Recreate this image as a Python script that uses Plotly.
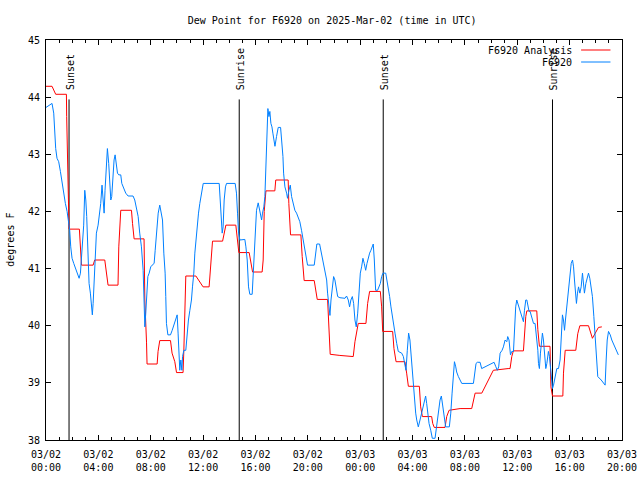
import pandas as pd
import plotly.graph_objects as go

# ---------------- data ----------------
start_time = "2025-03-02 00:00"
span_hours = 44

analysis_hours = [
    0.0, 0.46, 0.74, 1.56, 1.58, 1.63, 1.68, 1.76, 2.55, 2.63,
    2.71, 3.60, 3.72, 4.49, 4.67, 4.74, 5.50, 5.56, 5.71, 6.53,
    6.61, 6.73, 7.49, 7.55, 7.68, 7.72, 8.49, 8.56, 8.69, 9.51,
    9.63, 9.84, 9.97, 10.47, 10.53, 10.63, 10.68, 11.45, 12.00, 12.46,
    12.57, 12.72, 13.49, 13.59, 13.74, 14.50, 14.60, 14.73, 15.52, 15.65,
    15.78, 16.51, 16.59, 16.67, 16.80, 17.48, 17.55, 18.50, 18.55, 18.68,
    19.47, 19.57, 19.72, 20.49, 20.60, 20.72, 21.51, 21.61, 21.71, 22.45,
    23.47, 23.60, 23.75, 23.85, 24.44, 24.57, 24.72, 25.54, 25.64, 25.72,
    26.48, 26.58, 26.74, 27.42, 27.55, 27.68, 28.52, 28.62, 28.75, 29.46,
    29.54, 29.66, 30.48, 30.61, 30.79, 31.63, 32.52, 32.65, 32.78, 33.29,
    34.17, 35.30, 35.45, 35.58, 35.70, 36.47, 36.54, 36.65, 36.73, 37.49,
    37.57, 37.69, 38.50, 38.57, 38.69, 39.48, 39.53, 39.66, 40.47, 40.62,
    40.78, 41.44, 41.74, 42.20, 42.46,
]
analysis_values = [
    44.19, 44.19, 44.05, 44.05, 43.66, 42.87, 42.08, 41.69, 41.69, 41.38,
    41.06, 41.06, 41.15, 41.15, 40.83, 40.71, 40.71, 41.38, 42.02, 42.02,
    41.79, 41.52, 41.52, 40.45, 39.70, 39.33, 39.33, 39.55, 39.74, 39.74,
    39.52, 39.37, 39.18, 39.18, 39.57, 40.22, 40.87, 40.87, 40.68, 40.68,
    40.97, 41.48, 41.48, 41.59, 41.76, 41.76, 41.50, 41.28, 41.28, 41.12,
    40.94, 40.94, 41.15, 42.00, 42.36, 42.36, 42.55, 42.55, 42.14, 41.59,
    41.59, 41.21, 40.79, 40.79, 40.63, 40.46, 40.46, 40.04, 39.50, 39.48,
    39.46, 39.72, 39.92, 40.04, 40.04, 40.39, 40.60, 40.60, 40.33, 39.90,
    39.90, 39.60, 39.37, 39.37, 39.17, 38.94, 38.94, 38.58, 38.41, 38.41,
    38.29, 38.22, 38.22, 38.41, 38.52, 38.55, 38.55, 38.70, 38.82, 38.82,
    39.22, 39.25, 39.25, 39.46, 39.56, 39.56, 39.87, 40.16, 40.26, 40.26,
    39.93, 39.64, 39.64, 38.93, 38.77, 38.77, 39.17, 39.57, 39.57, 39.86,
    40.00, 40.00, 39.78, 39.97, 39.98,
]

obs_hours = [
    0.00, 0.28, 0.46, 0.59, 0.67, 0.74, 0.84, 0.97, 1.10, 1.23,
    1.35, 1.48, 1.61, 1.74, 1.81, 1.89, 1.99, 2.12, 2.25, 2.37,
    2.53, 2.63, 2.70, 2.78, 2.88, 2.96, 3.04, 3.11, 3.21, 3.29,
    3.39, 3.47, 3.54, 3.60, 3.67, 3.75, 3.85, 3.98, 4.11, 4.18,
    4.28, 4.39, 4.44, 4.51, 4.61, 4.69, 4.79, 4.87, 4.95, 5.02,
    5.12, 5.20, 5.28, 5.38, 5.46, 5.56, 5.71, 5.79, 5.94, 6.09,
    6.27, 6.65, 6.78, 6.91, 7.04, 7.16, 7.29, 7.42, 7.49, 7.55,
    7.62, 7.70, 7.78, 7.88, 8.00, 8.11, 8.26, 8.34, 8.44, 8.57,
    8.69, 8.82, 8.90, 9.00, 9.10, 9.15, 9.20, 9.31, 9.51, 9.64,
    9.76, 9.92, 10.02, 10.09, 10.17, 10.22, 10.30, 10.38, 10.43, 10.53,
    10.68, 10.78, 10.88, 10.99, 11.11, 11.19, 11.29, 11.37, 11.45, 11.55,
    11.65, 11.75, 11.88, 12.01, 13.23, 13.28, 13.36, 13.46, 13.53, 13.61,
    13.71, 13.79, 14.45, 14.55, 14.63, 14.71, 14.81, 15.19, 15.27, 15.37,
    15.47, 15.57, 15.75, 15.83, 15.91, 16.01, 16.08, 16.21, 16.34, 16.47,
    16.54, 16.64, 16.72, 16.80, 16.87, 16.95, 17.03, 17.10, 17.18, 17.26,
    17.33, 17.41, 17.49, 17.61, 17.74, 17.92, 17.99, 18.10, 18.15, 18.25,
    18.38, 18.45, 18.56, 18.66, 18.76, 18.89, 19.01, 19.14, 19.27, 19.39,
    19.52, 19.65, 19.78, 19.88, 19.98, 20.49, 20.59, 20.69, 20.90, 21.00,
    21.10, 21.21, 21.31, 21.44, 21.51, 21.61, 21.69, 21.77, 21.87, 21.97,
    22.07, 22.18, 22.28, 22.45, 22.71, 22.84, 22.96, 23.09, 23.19, 23.29,
    23.40, 23.50, 23.60, 23.70, 23.81, 23.91, 24.01, 24.11, 24.21, 24.31,
    24.42, 24.52, 24.62, 24.72, 24.82, 24.93, 25.00, 25.08, 25.18, 25.33,
    25.44, 25.54, 25.64, 25.74, 25.95, 26.05, 26.15, 26.25, 26.35, 26.45,
    26.66, 26.79, 26.91, 27.17, 27.30, 27.42, 27.50, 27.60, 27.70, 27.80,
    27.88, 27.96, 28.06, 28.14, 28.24, 28.32, 28.44, 28.57, 28.70, 28.83,
    28.93, 29.00, 29.08, 29.16, 29.26, 29.39, 29.51, 29.72, 29.79, 29.90,
    30.00, 30.10, 30.20, 30.28, 30.35, 30.46, 30.53, 30.81, 30.92, 31.02,
    31.12, 31.20, 31.30, 31.37, 31.50, 31.63, 31.76, 32.65, 32.75, 32.85,
    32.95, 33.16, 33.28, 33.54, 33.80, 34.05, 34.23, 34.35, 34.48, 34.58,
    34.69, 34.84, 34.94, 35.07, 35.20, 35.27, 35.37, 35.48, 35.58, 35.71,
    35.78, 35.88, 35.96, 36.04, 36.14, 36.24, 36.34, 36.47, 36.55, 36.65,
    36.73, 36.80, 36.90, 36.98, 37.11, 37.24, 37.36, 37.49, 37.57, 37.62,
    37.69, 37.77, 37.85, 37.92, 38.00, 38.08, 38.18, 38.26, 38.33, 38.38,
    38.46, 38.54, 38.61, 38.69, 38.77, 38.84, 38.94, 39.02, 39.15, 39.27,
    39.35, 39.45, 39.53, 39.61, 39.68, 39.78, 39.86, 39.96, 40.04, 40.12,
    40.22, 40.30, 40.37, 40.45, 40.52, 40.60, 40.68, 40.78, 40.88, 40.98,
    41.06, 41.13, 41.24, 41.34, 41.44, 41.54, 41.64, 41.74, 41.85, 41.95,
    42.05, 42.15, 42.41, 42.59, 42.71, 42.79, 42.87, 42.97, 43.10, 43.22,
    43.35, 43.48, 43.60, 43.72,
]
obs_values = [
    43.82, 43.86, 43.89, 43.72, 43.37, 43.10, 42.93, 42.87, 42.70, 42.49,
    42.32, 42.14, 42.00, 41.82, 41.67, 41.38, 41.18, 41.09, 41.00, 40.92,
    40.83, 40.92, 41.15, 41.50, 41.76, 42.37, 42.20, 41.91, 41.27, 40.74,
    40.57, 40.39, 40.19, 40.39, 40.80, 41.27, 41.62, 41.76, 41.97, 42.14,
    42.46, 42.20, 41.97, 42.37, 42.72, 43.10, 42.84, 42.55, 42.20, 42.26,
    42.72, 42.90, 42.99, 42.84, 42.67, 42.64, 42.64, 42.49, 42.40, 42.32,
    42.27, 42.27, 42.20, 42.08, 41.91, 41.62, 41.38, 40.97, 40.39, 39.98,
    40.22, 40.68, 40.86, 40.92, 41.03, 41.06, 41.09, 41.32, 41.67, 41.97,
    42.11, 41.95, 41.85, 41.27, 40.92, 40.51, 40.04, 39.84, 39.84, 39.92,
    40.01, 40.10, 40.19, 39.87, 39.46, 39.22, 39.40, 39.22, 39.46, 39.57,
    39.57, 39.87, 40.10, 40.27, 40.45, 40.68, 40.92, 41.27, 41.50, 41.73,
    41.97, 42.14, 42.32, 42.49, 42.49, 42.32, 41.97, 41.62, 41.73, 42.20,
    42.43, 42.49, 42.49, 42.32, 41.97, 41.62, 41.50, 41.51, 41.38, 41.15,
    40.68, 40.55, 40.55, 40.92, 41.50, 41.85, 42.02, 42.15, 42.02, 41.85,
    41.97, 42.08, 42.26, 42.96, 43.37, 43.80, 43.66, 43.75, 43.54, 43.48,
    43.37, 43.25, 43.14, 43.31, 43.47, 43.47, 43.31, 42.96, 42.67, 42.43,
    42.32, 42.23, 42.37, 42.46, 42.26, 42.14, 42.02, 41.97, 41.88, 41.82,
    41.67, 41.50, 41.32, 41.15, 41.06, 41.06, 41.27, 41.43, 41.43, 41.32,
    41.21, 41.09, 40.97, 40.80, 40.57, 40.33, 40.18, 40.45, 40.68, 40.86,
    40.80, 40.62, 40.51, 40.49, 40.48, 40.48, 40.52, 40.45, 40.33, 40.45,
    40.51, 40.39, 40.10, 39.98, 40.22, 40.57, 40.92, 41.03, 41.18, 41.09,
    40.97, 41.09, 41.21, 41.27, 41.32, 41.38, 41.43, 41.15, 40.62, 40.62,
    40.68, 40.74, 40.86, 40.92, 40.92, 40.80, 40.68, 40.51, 40.33, 40.16,
    39.87, 39.69, 39.55, 39.52, 39.46, 39.31, 39.22, 39.57, 39.87, 39.75,
    39.52, 39.28, 38.99, 38.70, 38.47, 38.35, 38.23, 38.35, 38.47, 38.58,
    38.70, 38.77, 38.64, 38.47, 38.29, 38.17, 38.03, 38.03, 38.17, 38.41,
    38.58, 38.70, 38.77, 38.64, 38.52, 38.41, 38.23, 38.23, 38.47, 38.82,
    39.11, 39.37, 39.28, 39.19, 39.11, 39.05, 38.99, 38.99, 39.17, 39.34,
    39.36, 39.36, 39.25, 39.28, 39.31, 39.33, 39.36, 39.29, 39.22, 39.28,
    39.52, 39.57, 39.63, 39.75, 39.72, 39.81, 39.75, 39.49, 39.55, 39.55,
    39.92, 40.33, 40.45, 40.39, 40.30, 40.22, 40.13, 40.07, 40.27, 40.45,
    40.45, 40.33, 40.25, 40.25, 40.16, 40.04, 40.04, 39.81, 39.57, 39.34,
    39.25, 39.52, 39.78, 39.87, 39.75, 39.46, 39.25, 39.34, 39.52, 39.55,
    39.46, 39.22, 39.11, 38.90, 38.96, 39.05, 39.22, 39.25, 39.25, 39.40,
    39.75, 40.19, 40.10, 39.92, 40.10, 40.33, 40.51, 40.80, 40.97, 41.09,
    41.15, 41.03, 40.80, 40.57, 40.39, 40.57, 40.68, 40.57, 40.68, 40.92,
    40.71, 40.57, 40.74, 40.83, 40.92, 40.83, 40.68, 40.51, 40.16, 39.75,
    39.40, 39.11, 39.05, 38.99, 38.96, 39.40, 39.75, 39.90, 39.84, 39.75,
    39.69, 39.63, 39.57, 39.49,
]

sun_labels = ["Sunset", "Sunrise", "Sunset", "Sunrise"]
sun_hours = [1.76, 14.76, 25.76, 38.69]
sun_line_top = 43.96
sun_label_base = 44.09

series_names = ["F6920 Analysis", "F6920"]
series_colors = ["#ff0000", "#0080ff"]

y_min, y_max = 38, 45
tick_every_hours = 4

# ---------------- figure ----------------
t0 = pd.Timestamp(start_time)


def to_time(hours):
    return [t0 + pd.Timedelta(hours=h) for h in hours]


FONT = "DejaVu Sans Mono"

fig = go.Figure()
fig.add_trace(go.Scatter(x=to_time(analysis_hours), y=analysis_values, mode="lines",
                         name=series_names[0], line=dict(color=series_colors[0], width=1),
                         showlegend=False, hoverinfo="skip"))
fig.add_trace(go.Scatter(x=to_time(obs_hours), y=obs_values, mode="lines",
                         name=series_names[1], line=dict(color=series_colors[1], width=1),
                         showlegend=False, hoverinfo="skip"))

shapes = []
annotations = []
for lbl, h in zip(sun_labels, sun_hours):
    t = t0 + pd.Timedelta(hours=h)
    shapes.append(dict(type="line", xref="x", yref="y", x0=t, x1=t, y0=y_min, y1=sun_line_top,
                       line=dict(color="black", width=1), layer="below"))
    annotations.append(dict(x=t, y=sun_label_base, xref="x", yref="y", text=lbl, textangle=-90,
                            showarrow=False, xanchor="center", yanchor="bottom", xshift=1,
                            font=dict(family=FONT, size=10, color="black")))

# manual gnuplot-style key (text left of the sample line)
key_rows_y = [0.975, 0.945]
for name, color, ky in zip(series_names, series_colors, key_rows_y):
    annotations.append(dict(x=0.917, y=ky, xref="paper", yref="paper", text=name, showarrow=False,
                            xanchor="right", yanchor="middle",
                            font=dict(family=FONT, size=10, color="black")))
    shapes.append(dict(type="line", xref="paper", yref="paper", x0=0.929, x1=0.980, y0=ky, y1=ky,
                       line=dict(color=color, width=1)))

annotations.append(dict(x=-0.063, y=0.5, xref="paper", yref="paper", text="degrees F", textangle=-90,
                        showarrow=False, xanchor="center", yanchor="middle",
                        font=dict(family=FONT, size=10, color="black")))

tick_times = [t0 + pd.Timedelta(hours=h) for h in range(0, span_hours + 1, tick_every_hours)]
tick_text = [t.strftime("%m/%d<br>%H:%M") for t in tick_times]

fig.update_layout(
    width=640, height=480,
    margin=dict(l=46, r=18, t=40, b=40, autoexpand=False),
    paper_bgcolor="white", plot_bgcolor="white",
    title=dict(text="Dew Point for F6920 on 2025-Mar-02 (time in UTC)", x=0.519, xanchor="center",
               y=0.958, yanchor="middle", font=dict(family=FONT, size=10, color="black")),
    font=dict(family=FONT, size=10, color="black"),
    shapes=shapes, annotations=annotations,
    showlegend=False,
)
fig.update_xaxes(
    type="date", range=[t0, t0 + pd.Timedelta(hours=span_hours)], automargin=False,
    tickmode="array", tickvals=tick_times, ticktext=tick_text, ticklabelstandoff=5,
    ticks="inside", ticklen=5, tickcolor="black", tickwidth=1,
    minor=dict(ticks="inside", ticklen=3, tickcolor="black", dtick=3600000, tick0=t0, showgrid=False),
    showline=True, linecolor="black", linewidth=1, mirror="allticks",
    showgrid=False, zeroline=False, tickfont=dict(family=FONT, size=10, color="black"),
)
fig.update_yaxes(
    range=[y_min, y_max], dtick=1, tick0=y_min, automargin=False, ticklabelstandoff=3,
    ticks="inside", ticklen=5, tickcolor="black", tickwidth=1,
    showline=True, linecolor="black", linewidth=1, mirror="allticks",
    showgrid=False, zeroline=False, tickfont=dict(family=FONT, size=10, color="black"),
)

# remove the browser's default 8px page margin so the 640x480 figure fills the window
fig.write_html("out.html",
               config={"displayModeBar": False, "staticPlot": True},
               post_script="document.body.style.margin='0';document.body.style.overflow='hidden';")
